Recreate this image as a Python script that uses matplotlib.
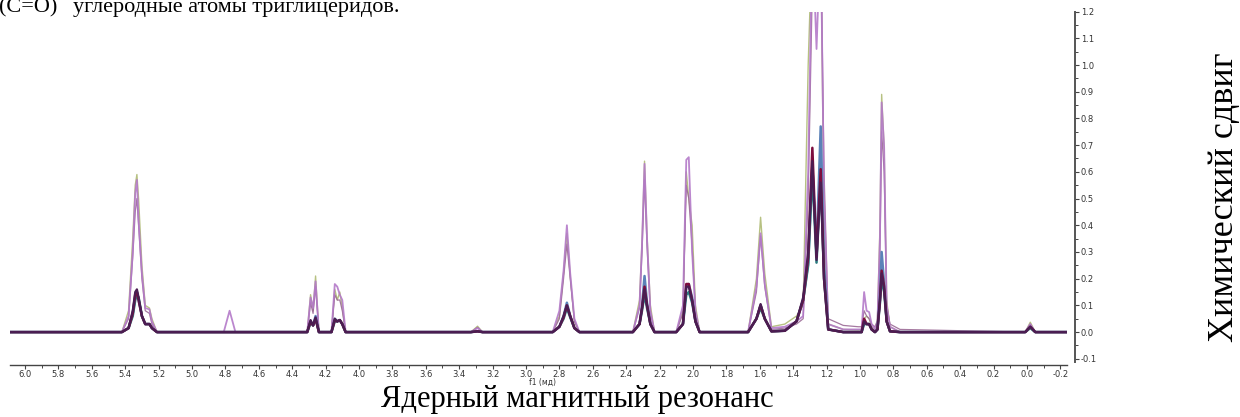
import matplotlib
matplotlib.use("Agg")
import matplotlib.pyplot as plt
from matplotlib.ticker import MultipleLocator

# chemical shift grid (ppm) shared by all traces
ppm = [6.09,
       5.42, 5.38, 5.355, 5.34, 5.33, 5.32, 5.30, 5.28, 5.255, 5.24, 5.21,
       4.81, 4.775, 4.74,
       4.31, 4.29, 4.275, 4.26, 4.24,
       4.165, 4.145, 4.13, 4.115, 4.10, 4.08,
       3.33, 3.29, 3.26,
       2.84, 2.80, 2.775, 2.755, 2.735, 2.71, 2.68,
       2.36, 2.32, 2.305, 2.29, 2.275, 2.255, 2.23,
       2.10, 2.06, 2.04, 2.025, 2.005, 1.985, 1.96,
       1.67, 1.62, 1.595, 1.57, 1.53,
       1.45, 1.38, 1.34, 1.31, 1.285, 1.26, 1.235, 1.215, 1.19,
       1.10, 1.01,
       0.99, 0.975, 0.96, 0.945, 0.93, 0.91,
       0.895, 0.88, 0.87, 0.855, 0.84, 0.82, 0.76,
       0.01, -0.02, -0.05, -0.24]

olive = [0,
         0, 0.08, 0.35, 0.55, 0.59, 0.50, 0.25, 0.10, 0.09, 0.05, 0,
         0, 0, 0,
         0, 0.14, 0.08, 0.21, 0,
         0, 0.16, 0.12, 0.15, 0.09, 0,
         0, 0.022, 0,
         0, 0.06, 0.22, 0.37, 0.21, 0.04, 0,
         0, 0.12, 0.34, 0.64, 0.36, 0.10, 0,
         0, 0.08, 0.60, 0.50, 0.40, 0.10, 0,
         0, 0.20, 0.43, 0.22, 0.02,
         0.03, 0.06, 0.10, 1.00, 1.50, 1.30, 1.50, 0.40, 0.03,
         0.01, 0.008,
         0.01, 0.05, 0.06, 0.05, 0.02, 0.01,
         0.05, 0.40, 0.89, 0.69, 0.12, 0.02, 0,
         0, 0.037, 0, 0]

lilac = [0,
         0, 0.06, 0.30, 0.52, 0.57, 0.42, 0.22, 0.09, 0.085, 0.04, 0,
         0, 0.08, 0,
         0, 0.13, 0.09, 0.19, 0,
         0, 0.18, 0.17, 0.14, 0.12, 0,
         0, 0.015, 0,
         0, 0.08, 0.23, 0.40, 0.22, 0.05, 0,
         0, 0.10, 0.33, 0.63, 0.35, 0.08, 0,
         0, 0.10, 0.645, 0.655, 0.30, 0.08, 0,
         0, 0.17, 0.37, 0.18, 0.015,
         0.02, 0.04, 0.06, 0.60, 1.50, 1.06, 1.50, 0.50, 0.03,
         0.01, 0.01,
         0.01, 0.15, 0.08, 0.075, 0.03, 0.01,
         0.04, 0.36, 0.86, 0.69, 0.10, 0.02, 0,
         0, 0.03, 0, 0]

mauve = [0,
         0, 0.05, 0.28, 0.45, 0.50, 0.40, 0.20, 0.08, 0.07, 0.03, 0,
         0, 0, 0,
         0, 0.11, 0.07, 0.17, 0,
         0, 0.14, 0.12, 0.12, 0.08, 0,
         0, 0.018, 0,
         0, 0.05, 0.20, 0.33, 0.20, 0.04, 0,
         0, 0.09, 0.30, 0.57, 0.32, 0.07, 0,
         0, 0.07, 0.55, 0.50, 0.32, 0.07, 0,
         0, 0.15, 0.36, 0.17, 0.01,
         0.015, 0.03, 0.05, 0.50, 1.30, 1.25, 1.50, 0.60, 0.05,
         0.025, 0.02,
         0.02, 0.08, 0.06, 0.05, 0.03, 0.02,
         0.04, 0.30, 0.75, 0.60, 0.10, 0.03, 0.01,
         0, 0.03, 0, 0]

blue = [0,
        0, 0.015, 0.07, 0.13, 0.15, 0.12, 0.06, 0.03, 0.03, 0.015, 0,
        0, 0, 0,
        0, 0.04, 0.025, 0.06, 0,
        0, 0.05, 0.04, 0.045, 0.03, 0,
        0, 0.003, 0,
        0, 0.02, 0.06, 0.11, 0.06, 0.015, 0,
        0, 0.03, 0.10, 0.21, 0.11, 0.03, 0,
        0, 0.03, 0.17, 0.18, 0.13, 0.04, 0,
        0, 0.05, 0.10, 0.05, 0.003,
        0.005, 0.04, 0.12, 0.26, 0.62, 0.30, 0.77, 0.25, 0.01,
        0, 0,
        0, 0.04, 0.03, 0.03, 0.01, 0,
        0.01, 0.14, 0.30, 0.18, 0.04, 0.003, 0,
        0, 0.02, 0, 0]

teal = [0,
        0, 0.015, 0.06, 0.12, 0.14, 0.13, 0.06, 0.03, 0.03, 0.015, 0,
        0, 0, 0,
        0, 0.035, 0.025, 0.05, 0,
        0, 0.04, 0.04, 0.045, 0.03, 0,
        0, 0.003, 0,
        0, 0.02, 0.05, 0.09, 0.055, 0.015, 0,
        0, 0.03, 0.08, 0.14, 0.09, 0.03, 0,
        0, 0.03, 0.14, 0.15, 0.11, 0.04, 0,
        0, 0.05, 0.09, 0.05, 0.003,
        0.005, 0.04, 0.12, 0.25, 0.60, 0.26, 0.58, 0.20, 0.01,
        0, 0,
        0, 0.03, 0.03, 0.03, 0.01, 0,
        0.01, 0.11, 0.20, 0.15, 0.04, 0.003, 0,
        0, 0.015, 0, 0]

maroon = [0,
          0, 0.015, 0.07, 0.14, 0.15, 0.12, 0.06, 0.03, 0.03, 0.015, 0,
          0, 0, 0,
          0, 0.04, 0.025, 0.05, 0,
          0, 0.045, 0.04, 0.045, 0.03, 0,
          0, 0.003, 0,
          0, 0.02, 0.055, 0.10, 0.06, 0.015, 0,
          0, 0.03, 0.09, 0.17, 0.10, 0.03, 0,
          0, 0.03, 0.18, 0.18, 0.12, 0.04, 0,
          0, 0.05, 0.10, 0.05, 0.003,
          0.005, 0.04, 0.12, 0.28, 0.69, 0.28, 0.61, 0.20, 0.01,
          0, 0,
          0, 0.05, 0.03, 0.03, 0.01, 0,
          0.01, 0.12, 0.23, 0.17, 0.04, 0.003, 0,
          0, 0.02, 0, 0]

plum = [0,
        0, 0.015, 0.08, 0.15, 0.16, 0.13, 0.06, 0.03, 0.03, 0.015, 0,
        0, 0, 0,
        0, 0.045, 0.025, 0.055, 0,
        0, 0.05, 0.04, 0.045, 0.03, 0,
        0, 0.003, 0,
        0, 0.02, 0.06, 0.10, 0.06, 0.015, 0,
        0, 0.03, 0.09, 0.16, 0.10, 0.03, 0,
        0, 0.03, 0.17, 0.17, 0.12, 0.04, 0,
        0, 0.05, 0.105, 0.05, 0.003,
        0.005, 0.04, 0.13, 0.30, 0.64, 0.27, 0.56, 0.20, 0.01,
        0, 0,
        0, 0.04, 0.03, 0.03, 0.01, 0,
        0.01, 0.12, 0.22, 0.16, 0.04, 0.003, 0,
        0, 0.02, 0, 0]

W, H = 1240, 417
fig = plt.figure(figsize=(W / 100, H / 100), dpi=100)
ax = fig.add_axes([10 / W, (H - 362) / H, (1067 - 10) / W, (362 - 11.6) / H])

# light traces first, dark ones on top
ax.plot(ppm, olive, color="#afbb74", lw=1.0, alpha=0.9)
ax.plot(ppm, mauve, color="#9b6a96", lw=0.9, alpha=0.9)
ax.plot(ppm, lilac, color="#b47ac9", lw=1.3, alpha=0.9)
ax.plot(ppm, blue, color="#5b82b8", lw=1.8)
ax.plot(ppm, teal, color="#2b7b80", lw=1.8)
ax.plot(ppm, maroon, color="#7d0d3e", lw=1.8)
ax.plot(ppm, plum, color="#4a1d52", lw=1.6)

ax.set_xlim(6.09, -0.24)
ax.set_ylim(-0.112, 1.2)

for s in ["left", "top"]:
    ax.spines[s].set_visible(False)
ax.spines["bottom"].set_position(("outward", 2))
ax.spines["right"].set_position(("outward", 6))
ax.spines["bottom"].set_color("#444444")
ax.spines["right"].set_color("#555555")
ax.spines["bottom"].set_linewidth(1.0)
ax.spines["right"].set_linewidth(1.4)

ax.xaxis.set_major_locator(MultipleLocator(0.2))
ax.xaxis.set_minor_locator(MultipleLocator(0.1))
ax.yaxis.set_major_locator(MultipleLocator(0.1))
ax.yaxis.set_minor_locator(MultipleLocator(0.05))
ax.yaxis.tick_right()
ax.xaxis.set_major_formatter(plt.FuncFormatter(lambda v, p: f"{v:.1f}"))
ax.yaxis.set_major_formatter(plt.FuncFormatter(lambda v, p: f"{v:.1f}"))
ax.tick_params(axis="both", which="major", length=3, width=0.8, color="#444444",
               labelsize=6, labelcolor="#333333", pad=0.8)
ax.tick_params(axis="both", which="minor", length=2, width=0.7, color="#444444")

ax.text(2.9, -0.19, "f1 (мд)", fontsize=5.5, color="#333333", ha="center", va="center",
        transform=ax.transData, clip_on=False)

serif = "Liberation Serif"
fig.text(577 / W, 1 - 400 / H, "Ядерный магнитный резонанс", family=serif,
         fontsize=22, ha="center", va="center")
fig.text(1225 / W, 1 - 197 / H, "Химический сдвиг", family=serif,
         fontsize=26, rotation=90, ha="center", va="center")
fig.text(57 / W, 1 - 12 / H, "(С=О)", family=serif,
         fontsize=16, ha="right", va="baseline")
fig.text(73 / W, 1 - 12 / H, "углеродные атомы триглицеридов.", family=serif,
         fontsize=16, ha="left", va="baseline")

fig.savefig("out.png", dpi=100)
